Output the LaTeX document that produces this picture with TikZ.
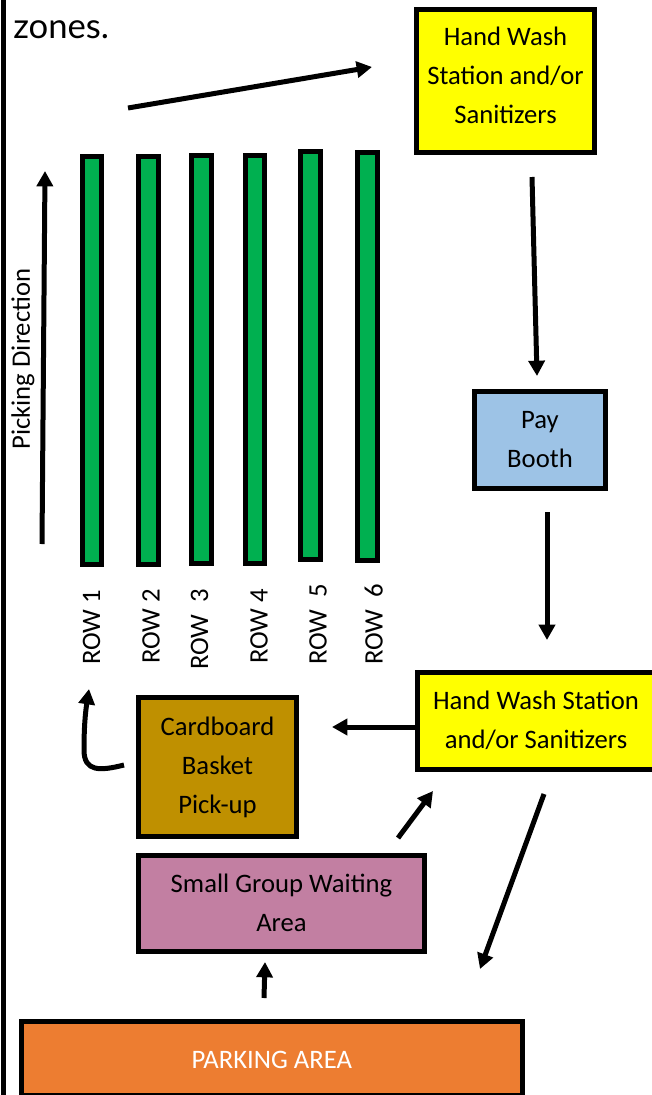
\documentclass[tikz,border=0pt]{standalone}
\usepackage{fontspec}
\setmainfont{Carlito}
\newfontfamily\zonefont{Lato}
\usetikzlibrary{arrows.meta}
\definecolor{rowgreen}{HTML}{00B050}
\definecolor{washyellow}{HTML}{FFFF00}
\definecolor{payblue}{HTML}{9DC3E6}
\definecolor{cardgold}{HTML}{BF9000}
\definecolor{waitpink}{HTML}{C27FA2}
\definecolor{parkorange}{HTML}{ED7D31}
\tikzset{
  x=.75pt,y=-.75pt,
  zonebox/.style={draw=black,line width=3.75pt,inner sep=0pt,outer sep=0pt,align=center,
    font=\fontsize{20}{29.25}\selectfont,text=black},
  rowbar/.style={draw=black,line width=3.75pt,fill=rowgreen,inner sep=0pt,outer sep=0pt},
  rowlabel/.style={rotate=90,anchor=base west,inner sep=0pt,font=\fontsize{20}{24}\selectfont},
  flow/.style={line width=3.75pt,-{Triangle[length=11.5pt,width=12pt]}},
}
\newcommand\boxnode[7]{%
  \pgfmathsetmacro\bcx{(#2+#4)/2}\pgfmathsetmacro\bcy{(#3+#5)/2}%
  \pgfmathsetmacro\bw{(#4-#2-5)*.75}\pgfmathsetmacro\bh{(#5-#3-5)*.75}%
  \node[#7,minimum width=\bw pt,minimum height=\bh pt] (#1) at (\bcx,\bcy) {#6};}
\newcommand\lines[2]{\raisebox{\dimexpr#1-5pt\relax}[0pt][0pt]{\begin{tabular}[c]{@{}c@{}}#2\end{tabular}}}
\begin{document}
\begin{tikzpicture}
\useasboundingbox (0,0) rectangle (651,1095);
\draw[line width=3.75pt] (3.5,-5) -- (3.5,1100);
\node[anchor=base west,inner sep=0pt,font=\zonefont\fontsize{26}{30}\selectfont] (zones) at (13,39) {zones.};

\boxnode{r1}{79.5}{154}{104}{567}{}{rowbar}
\boxnode{r2}{136}{154}{160.5}{567}{}{rowbar}
\boxnode{r3}{189}{153}{213.5}{566}{}{rowbar}
\boxnode{r4}{243}{153}{267}{566}{}{rowbar}
\boxnode{r5}{298}{149}{322.5}{562}{}{rowbar}
\boxnode{r6}{355}{150.5}{380}{563}{}{rowbar}

\node[rowlabel] (l1) at (100,665) {ROW 1};
\node[rowlabel] (l2) at (159.5,664) {ROW 2};
\node[rowlabel] (l3) at (208,670) {ROW\ \ 3};
\node[rowlabel] (l4) at (267.5,664) {ROW 4};
\node[rowlabel] (l5) at (326.5,665) {ROW\ \ 5};
\node[rowlabel] (l6) at (382.5,665) {ROW\ \ 6};
\node[rotate=90,inner sep=0pt,font=\fontsize{20}{24}\selectfont] (pick) at (23,359) {Picking Direction};

\boxnode{hw1}{414}{7}{597}{155}{\lines{3.4pt}{Hand Wash\\Station and/or\\Sanitizers}}{zonebox,fill=washyellow}
\boxnode{pay}{472}{389}{608}{491}{\lines{0pt}{Pay\\Booth}}{zonebox,fill=payblue}
\boxnode{hw2}{415}{670}{657}{772}{\lines{0pt}{Hand Wash Station\\and/or Sanitizers}}{zonebox,fill=washyellow}
\boxnode{card}{136}{695}{299}{839}{\lines{0pt}{Cardboard\\Basket\\Pick-up}}{zonebox,fill=cardgold}
\boxnode{wait}{136}{853}{427}{954}{\lines{-.75pt}{Small Group Waiting\\Area}}{zonebox,fill=waitpink}
\boxnode{park}{18.5}{1019}{525}{1098}{\textcolor{white}{\lines{-1.5pt}{PARKING AREA}}}{zonebox,fill=parkorange}

\coordinate (a1s) at (128,108); \coordinate (a1e) at (372,67);
\coordinate (pds) at (42,544); \coordinate (pde) at (45,171);
\coordinate (a2s) at (532,177); \coordinate (a2e) at (537,376);
\coordinate (a3s) at (547,512); \coordinate (a3e) at (547,640);
\coordinate (a4s) at (415,727); \coordinate (a4e) at (332,727);
\coordinate (a5s) at (124,765); \coordinate (a5e) at (89,689);
\coordinate (a6s) at (398,838); \coordinate (a6e) at (433,791);
\coordinate (a7s) at (544,794); \coordinate (a7e) at (480,969);
\coordinate (a8s) at (264,998); \coordinate (a8e) at (265,962);
\draw[flow] (a1s) -- (a1e);
\draw[flow] (pds) -- (pde);
\draw[flow] (a2s) -- (a2e);
\draw[flow] (a3s) -- (a3e);
\draw[flow] (a4s) -- (a4e);
\draw[flow] (a5s) .. controls (100,771) and (84,772) .. (84,750) .. controls (84,730) and (85,715) .. (a5e);
\draw[flow] (a6s) -- (a6e);
\draw[flow] (a7s) -- (a7e);
\draw[flow] (a8s) -- (a8e);
\end{tikzpicture}
\end{document}
